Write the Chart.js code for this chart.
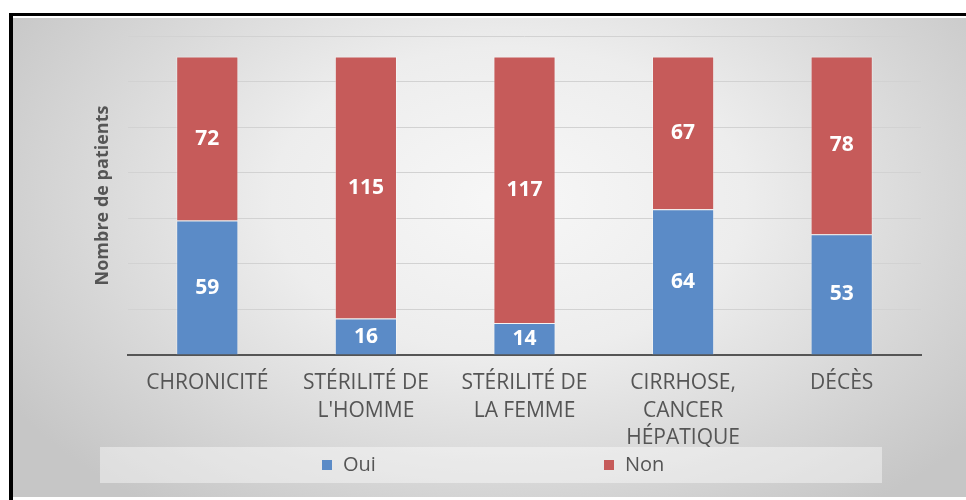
<!DOCTYPE html>
<html>
<head>
<meta charset="utf-8">
<script src="https://cdn.jsdelivr.net/npm/chart.js@4/dist/chart.umd.min.js"></script>
<style>
    body { margin: 0; background: #fff; width: 966px; height: 500px; overflow: hidden; position: relative; }
    #frame { position: absolute; left: 9px; top: 13px; width: 957px; height: 487px; border-top: 3px solid #000; border-left: 4px solid #000; box-sizing: border-box; }
    #panel { position: absolute; left: 13px; top: 18px; width: 953px; height: 479px;
        background: radial-gradient(ellipse 62% 80% at 52% 38%, #f7f7f7 0%, #ededed 40%, #d6d6d6 75%, #c6c6c6 100%); }
    #chart { position: absolute; left: 0; top: -2px; }
</style>
</head>
<body>
<div id="frame"></div>
<div id="panel">
    <canvas id="chart" width="953" height="481" style="width:953px;height:481px"></canvas>
</div>
<script>
// Chart data
const categories = [
    "CHRONICITÉ",
    ["STÉRILITÉ DE", "L'HOMME"],
    ["STÉRILITÉ DE", "LA FEMME"],
    ["CIRRHOSE,", "CANCER", "HÉPATIQUE"],
    "DÉCÈS"
];
const seriesNames = ["Oui", "Non"];
const ouiValues = [59, 16, 14, 64, 53];
const nonValues = [72, 115, 117, 67, 78];
const yTitle = "Nombre de patients";

const textColor = "#555555";
const fontFamily = "'Open Sans', 'DejaVu Sans', sans-serif";

// White numbers in the middle of each bar segment
const segmentLabels = {
    id: "segmentLabels",
    afterDatasetsDraw(chart) {
        const ctx = chart.ctx;
        ctx.save();
        ctx.font = "bold 21px " + fontFamily;
        ctx.fillStyle = "#ffffff";
        ctx.textAlign = "center";
        ctx.textBaseline = "middle";
        chart.data.datasets.forEach((ds, di) => {
            chart.getDatasetMeta(di).data.forEach((bar, i) => {
                ctx.fillText(String(ds.data[i]), bar.x, (bar.y + bar.base) / 2);
            });
        });
        ctx.restore();
    }
};

// Legend band at the bottom, drawn like the original
const bandLegend = {
    id: "bandLegend",
    afterDraw(chart) {
        const ctx = chart.ctx;
        ctx.save();
        ctx.fillStyle = "rgba(255,255,255,0.42)";
        ctx.fillRect(87, 431, 782, 36);
        const itemX = [309, 591];
        ctx.font = "20px " + fontFamily;
        ctx.textBaseline = "middle";
        chart.data.datasets.forEach((ds, i) => {
            ctx.fillStyle = ds.backgroundColor;
            ctx.fillRect(itemX[i], 444, 10, 10);
            ctx.fillStyle = textColor;
            ctx.fillText(ds.label, itemX[i] + 21, 449);
        });
        ctx.restore();
    }
};

new Chart(document.getElementById("chart"), {
    type: "bar",
    data: {
        labels: categories,
        datasets: [
            {
                label: seriesNames[0],
                data: ouiValues,
                backgroundColor: "#5b8bc7",
                borderColor: "rgba(255,255,255,0.35)",
                borderWidth: 1,
                categoryPercentage: 0.8,
                barPercentage: 0.49,
            },
            {
                label: seriesNames[1],
                data: nonValues,
                backgroundColor: "#c65b5a",
                borderColor: "rgba(255,255,255,0.35)",
                borderWidth: 1,
                categoryPercentage: 0.8,
                barPercentage: 0.49,
            },
        ],
    },
    options: {
        responsive: false,
        animation: false,
        devicePixelRatio: 1,
        layout: {
            padding: { left: 0, right: 45, top: 20, bottom: 50 },
        },
        plugins: {
            legend: { display: false },
            tooltip: { enabled: false },
        },
        scales: {
            x: {
                stacked: true,
                grid: { display: false, drawTicks: false },
                border: { display: true, color: "#555555", width: 2 },
                ticks: {
                    color: textColor,
                    font: { family: fontFamily, size: 21, lineHeight: 1.32 },
                    padding: 14,
                    maxRotation: 0,
                    autoSkip: false,
                },
                afterFit(scale) {
                    scale.height = 92;
                },
            },
            y: {
                stacked: true,
                min: 0,
                max: 140,
                ticks: { display: false, stepSize: 20 },
                grid: { color: "#d2d2d2", lineWidth: 1, drawTicks: false },
                border: { display: false },
                title: {
                    display: true,
                    text: yTitle,
                    color: textColor,
                    font: { family: fontFamily, size: 18, weight: "bold" },
                    padding: { top: 79, bottom: 0 },
                },
                afterFit(scale) {
                    scale.width = 115;
                },
            },
        },
    },
    plugins: [segmentLabels, bandLegend],
});
</script>
</body>
</html>
